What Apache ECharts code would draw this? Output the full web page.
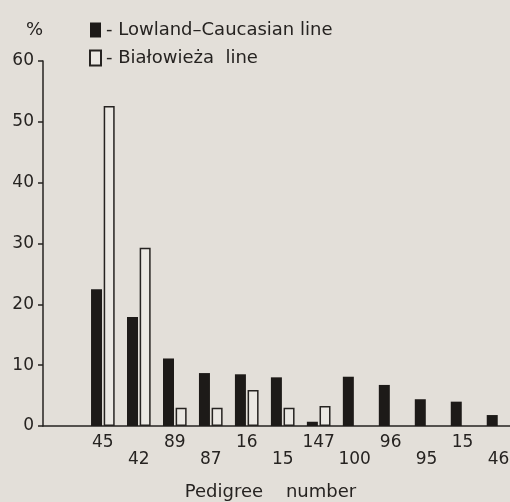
<!DOCTYPE html>
<html>
<head>
<meta charset="utf-8">
<script src="https://cdn.jsdelivr.net/npm/echarts@6/dist/echarts.min.js"></script>
<style>
html,body{margin:0;padding:0;background:#e3dfd9;}
#c{width:510px;height:502px;}
</style>
</head>
<body>
<div id="c"></div>
<script>
const categories = ['45','42','89','87','16','15','147','100','96','95','15','46'];
const lowland = [22.5,17.9,11.1,8.7,8.5,8.0,0.7,8.1,6.75,4.4,4.0,1.8];
const bialowieza = [52.6,29.3,3.0,3.0,5.9,3.0,3.3,null,null,null,null,null];
const yTicks = [0,10,20,30,40,50,60];
const seriesNames = ['- Lowland\u2013Caucasian line','- Bia\u0142owie\u017ca  line'];

const ink = '#262321';
const font = 'DejaVu Sans';
const chart = echarts.init(document.getElementById('c'), null, {renderer:'canvas'});
chart.setOption({
  backgroundColor: '#e3dfd9',
  animation: false,
  textStyle: {fontFamily: font, color: ink},
  legend: {
    orient: 'vertical', left: 84, top: 16, icon: 'rect',
    itemWidth: 11, itemHeight: 15, itemGap: 10,
    textStyle: {fontFamily: font, fontSize: 18, color: ink},
    data: seriesNames
  },
  grid: {left: 43, right: 0, top: 61, bottom: 76, containLabel: false, outerBoundsMode: 'none'},
  xAxis: {
    type: 'value', min: -1.664, max: 11.318,
    name: 'Pedigree    number', nameLocation: 'middle', nameGap: 57,
    nameTextStyle: {fontFamily: font, fontSize: 18, color: ink, padding: [0, 12, 0, 0]},
    axisLine: {show: true, onZero: false, lineStyle: {color: ink, width: 1.5}},
    axisTick: {show: false},
    splitLine: {show: false},
    axisLabel: {
      customValues: categories.map((_, i) => i),
      formatter: v => { const i = Math.round(v); return (i % 2 ? '\n' : '') + categories[i]; },
      fontFamily: font, fontSize: 17, lineHeight: 17, margin: 8, color: ink
    }
  },
  yAxis: {
    type: 'value', min: yTicks[0], max: yTicks[yTicks.length-1], interval: 10,
    name: '%', nameLocation: 'end', nameGap: 22,
    nameTextStyle: {fontFamily: font, fontSize: 18, color: ink, align: 'right'},
    axisLine: {show: true, onZero: false, lineStyle: {color: ink, width: 1.5}},
    axisTick: {show: true, length: 5, lineStyle: {color: ink, width: 1.5}},
    splitLine: {show: false},
    axisLabel: {fontFamily: font, fontSize: 17, margin: 9, color: ink}
  },
  series: [
    {
      name: seriesNames[0], type: 'bar', barWidth: 11, barGap: '15%',
      itemStyle: {color: '#1d1a18'},
      data: lowland.map((v, i) => [i, v])
    },
    {
      name: seriesNames[1], type: 'bar', barWidth: 11, barGap: '15%',
      itemStyle: {color: '#ebe8e3', borderColor: ink, borderWidth: 1.5},
      data: bialowieza.map((v, i) => [i, v])
    }
  ]
});
</script>
</body>
</html>
